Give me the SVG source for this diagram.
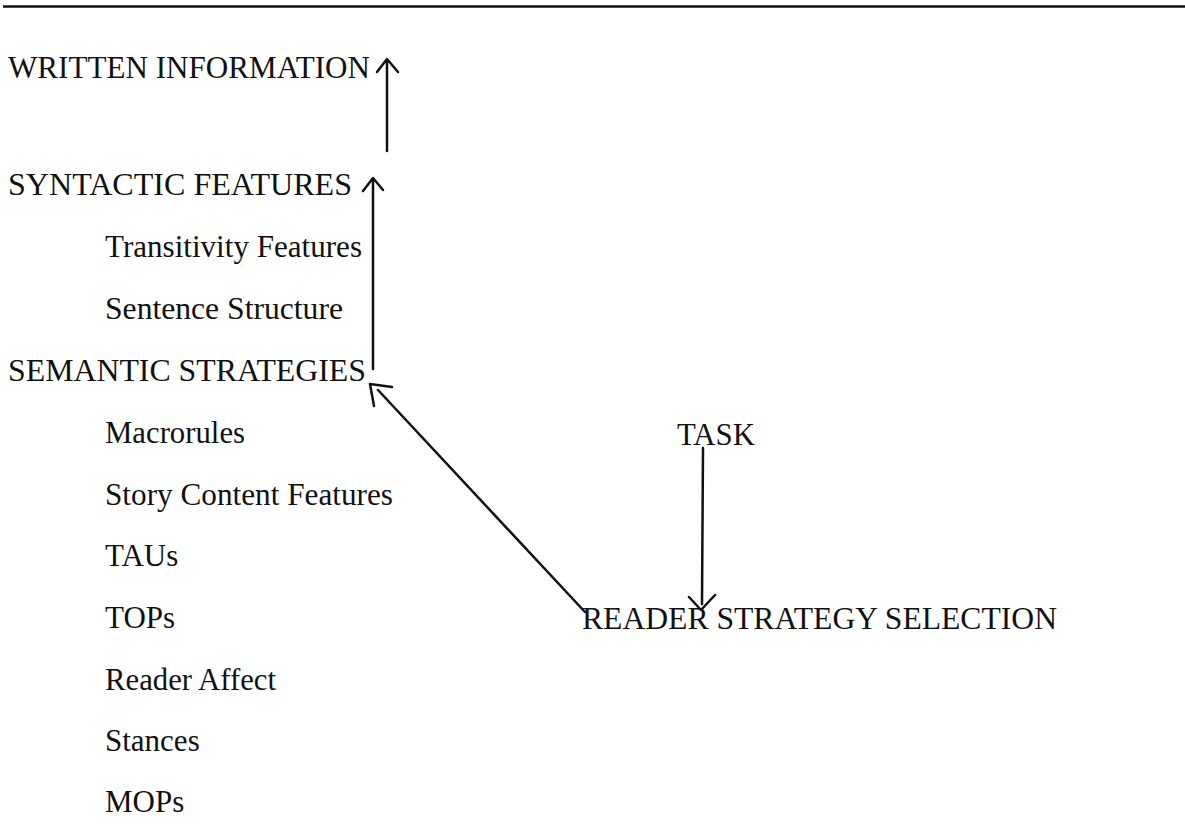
<svg xmlns="http://www.w3.org/2000/svg" width="1185" height="831" viewBox="0 0 1185 831">
  <style>
    text { font-family: "Liberation Serif", "Times New Roman", serif; font-size: 31px; fill: #111; }
    .conn { stroke: #111; stroke-width: 2.5; fill: none; stroke-linecap: round; stroke-linejoin: round; }
  </style>
  <rect width="1185" height="831" fill="#fff"/>
  <!-- rule across the top of the page -->
  <line x1="3" y1="6.5" x2="1185" y2="6.5" stroke="#111" stroke-width="2.5"/>

  <g id="written-information"><text x="8" y="78" textLength="362" lengthAdjust="spacingAndGlyphs">WRITTEN INFORMATION</text></g>
  <g id="syntactic-features">
    <text x="8" y="195" textLength="344" lengthAdjust="spacingAndGlyphs">SYNTACTIC FEATURES</text>
    <text x="105" y="257" textLength="257" lengthAdjust="spacingAndGlyphs">Transitivity Features</text>
    <text x="105" y="319" textLength="238" lengthAdjust="spacingAndGlyphs">Sentence Structure</text>
  </g>
  <g id="semantic-strategies">
    <text x="8" y="381" textLength="358" lengthAdjust="spacingAndGlyphs">SEMANTIC STRATEGIES</text>
    <text x="105" y="443" textLength="140" lengthAdjust="spacingAndGlyphs">Macrorules</text>
    <text x="105" y="505" textLength="288" lengthAdjust="spacingAndGlyphs">Story Content Features</text>
    <text x="105" y="566">TAUs</text>
    <text x="105" y="628">TOPs</text>
    <text x="105" y="690" textLength="171" lengthAdjust="spacingAndGlyphs">Reader Affect</text>
    <text x="105" y="751">Stances</text>
    <text x="105" y="812">MOPs</text>
  </g>
  <g id="task"><text x="677" y="445" textLength="78" lengthAdjust="spacingAndGlyphs">TASK</text></g>
  <g id="reader-strategy-selection"><text x="582" y="629" textLength="475" lengthAdjust="spacingAndGlyphs">READER STRATEGY SELECTION</text></g>

  <g id="connectors" class="conn">
    <!-- syntactic -> written -->
    <path d="M387 151 L387 60 M377 72 L387 59 L398 72"/>
    <!-- semantic -> syntactic -->
    <path d="M373 369 L373 180 M363 191 L373 178 L383 190"/>
    <!-- reader strategy selection -> semantic -->
    <path d="M585 612 L378 390 M374 406 L370 384 L392 387"/>
    <!-- task -> reader strategy selection -->
    <path d="M703 448 L702 604 M689 597 L701 610 L715 595"/>
  </g>
</svg>
